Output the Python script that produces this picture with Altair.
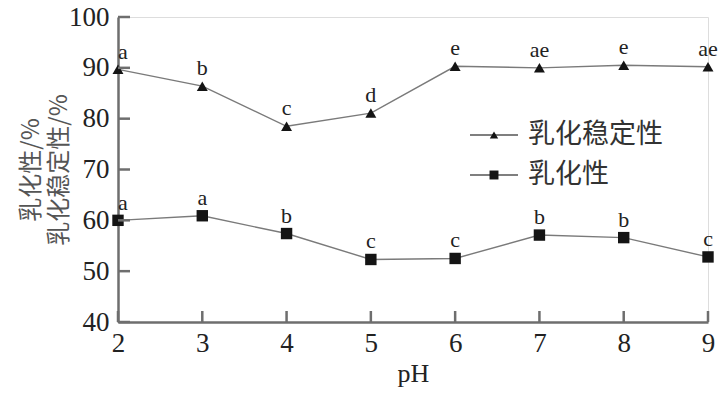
import altair as alt
import pandas as pd

ph = [2, 3, 4, 5, 6, 7, 8, 9]
stability = [89.7, 86.4, 78.5, 81.1, 90.3, 90.0, 90.5, 90.2]
stab_letters = ["a", "b", "c", "d", "e", "ae", "e", "ae"]
activity = [60.0, 60.9, 57.4, 52.3, 52.5, 57.1, 56.6, 52.8]
act_letters = ["a", "a", "b", "c", "c", "b", "b", "c"]
y_ticks = [40, 50, 60, 70, 80, 90, 100]
x_ticks = [2, 3, 4, 5, 6, 7, 8, 9]
legend_names = ["乳化稳定性", "乳化性"]

W, H = 590, 305
SERIF = "Liberation Serif"
CJK = "Noto Sans CJK SC"
LINE_C = "#7a7a7a"
MARK_C = "#141414"
AXIS_C = "#6e6e6e"

df_s = pd.DataFrame({"pH": ph, "v": stability, "lab": stab_letters})
df_a = pd.DataFrame({"pH": ph, "v": activity, "lab": act_letters})

xs = alt.Scale(domain=[2, 9], nice=False, zero=False)
ys = alt.Scale(domain=[40, 100], nice=False, zero=False)

xax = alt.Axis(values=x_ticks, ticks=False, tickSize=0, grid=False, domainColor=AXIS_C,
               domainWidth=2.5, labelFont=SERIF, labelFontSize=27, labelColor="#222",
               labelPadding=8, title="pH", titleFont=SERIF, titleFontSize=26,
               titleFontWeight="normal", titleColor="#222", titlePadding=4, labelFlush=False)
yax = alt.Axis(values=y_ticks, ticks=False, tickSize=0, grid=False, domainColor=AXIS_C,
               domainWidth=2.5, labelFont=SERIF, labelFontSize=27, labelColor="#222",
               labelPadding=9, title=["乳化性/%", "乳化稳定性/%"], titleFont=CJK,
               titleFontSize=24, titleFontWeight="normal", titleColor="#555",
               titleLineHeight=28, titleAngle=270, titleAlign="center",
               titleBaseline="middle", titleX=-87, titleY=H / 2, labelFlush=False)


def X(field):
    return alt.X(field, scale=xs, axis=xax)


def Y(field):
    return alt.Y(field, scale=ys, axis=yax)


def series(df, shape, size):
    line = alt.Chart(df).mark_line(color=LINE_C, strokeWidth=1.4).encode(x=X("pH:Q"), y=Y("v:Q"))
    pts = alt.Chart(df).mark_point(shape=shape, filled=True, opacity=1, color=MARK_C,
                                   size=size).encode(x=X("pH:Q"), y=Y("v:Q"))
    txt_first = alt.Chart(df).transform_filter(alt.datum.pH == 2).mark_text(
        font=SERIF, fontSize=22, color="#222", align="left", baseline="alphabetic",
        dx=0, dy=-10).encode(x=X("pH:Q"), y=Y("v:Q"), text="lab:N")
    txt_rest = alt.Chart(df).transform_filter(alt.datum.pH != 2).mark_text(
        font=SERIF, fontSize=22, color="#222", align="center", baseline="alphabetic",
        dy=-11).encode(x=X("pH:Q"), y=Y("v:Q"), text="lab:N")
    return [line, pts, txt_first, txt_rest]


# inward ticks
yt = alt.Chart(pd.DataFrame({"v": y_ticks})).mark_rule(color=AXIS_C, strokeWidth=2.5).encode(
    y=Y("v:Q"), x=alt.value(0), x2=alt.value(12))
xt = alt.Chart(pd.DataFrame({"pH": x_ticks})).mark_rule(color=AXIS_C, strokeWidth=2.5).encode(
    x=X("pH:Q"), y=alt.value(H), y2=alt.value(H - 11))

# legend
leg_layers = []
for i, (name, shape, sz) in enumerate(zip(legend_names, ["triangle-up", "square"], [70, 80])):
    ypix = 118 + 40 * i
    d = pd.DataFrame({"name": [name]})
    leg_layers.append(alt.Chart(d).mark_rule(color="#555", strokeWidth=1.4).encode(
        y=alt.value(ypix), x=alt.value(352), x2=alt.value(400)))
    leg_layers.append(alt.Chart(d).mark_point(shape=shape, filled=True, opacity=1, color=MARK_C,
                                              size=sz).encode(y=alt.value(ypix), x=alt.value(376)))
    leg_layers.append(alt.Chart(d).mark_text(font=CJK, fontSize=27, color="#333", align="left",
                                             baseline="middle").encode(
        y=alt.value(ypix), x=alt.value(410), text="name:N"))

layers = series(df_s, "triangle-up", 120) + series(df_a, "square", 130) + [yt, xt] + leg_layers

chart = alt.layer(*layers).properties(
    width=W, height=H,
    autosize=alt.AutoSizeParams(type="none"),
    padding={"left": 118, "top": 17, "right": 18, "bottom": 72},
).configure_view(stroke=None).configure(background="white")

chart.save("out.html", embed_options={"renderer": "svg", "actions": False})
